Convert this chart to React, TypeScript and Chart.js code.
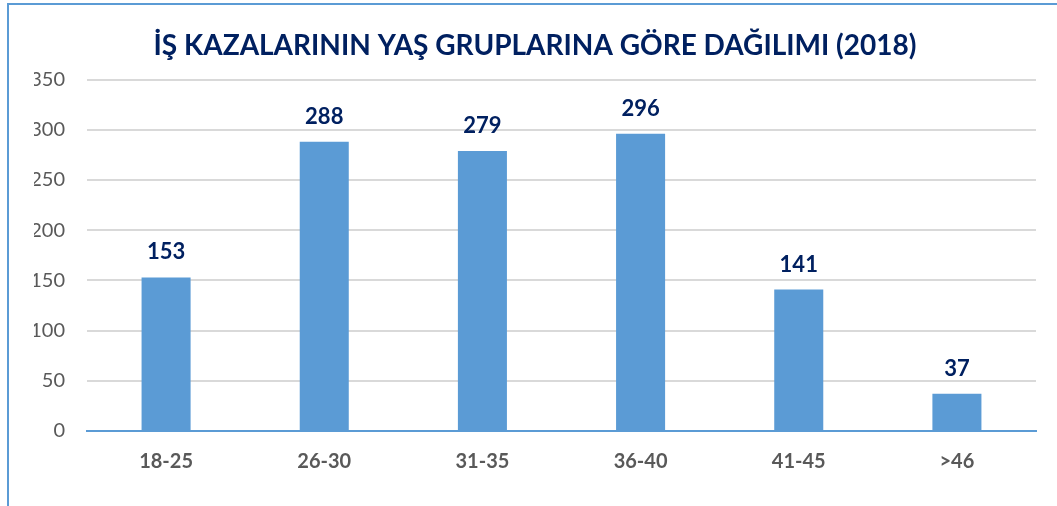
import React, { useEffect, useRef } from "react";
import { Chart, registerables } from "chart.js";

Chart.register(...registerables);

const title = "İŞ KAZALARININ YAŞ GRUPLARINA GÖRE DAĞILIMI (2018)";
const categories = ["18-25", "26-30", "31-35", "36-40", "41-45", ">46"];
const values = [153, 288, 279, 296, 141, 37];
const yTicks = [0, 50, 100, 150, 200, 250, 300, 350];

const FONT = "Lato, 'Open Sans', sans-serif";

const dataLabels = {
  id: "dataLabels",
  afterDatasetsDraw(chart: any) {
    const ctx = chart.ctx;
    const meta = chart.getDatasetMeta(0);
    ctx.save();
    ctx.font = `bold 22px ${FONT}`;
    ctx.fillStyle = "#002060";
    ctx.textAlign = "center";
    ctx.textBaseline = "middle";
    meta.data.forEach((bar: any, i: number) => {
      ctx.fillText(String(values[i]), bar.x, bar.y - 25);
    });
    ctx.restore();
  },
};

export default function App() {
  const ref = useRef<HTMLCanvasElement | null>(null);
  useEffect(() => {
    if (!ref.current) return;
    const chart = new Chart(ref.current, {
      type: "bar",
      data: {
        labels: categories,
        datasets: [
          {
            data: values,
            backgroundColor: "#5B9BD5",
            borderWidth: 0,
            barPercentage: 0.31,
            categoryPercentage: 1,
          },
        ],
      },
      options: {
        responsive: false,
        animation: false,
        layout: { padding: { top: 0, left: 34, right: 21, bottom: 13 } },
        plugins: {
          legend: { display: false },
          tooltip: { enabled: false },
          title: {
            display: true,
            text: title,
            color: "#002060",
            font: { family: FONT, size: 28, weight: "bold" },
            padding: { top: 29, bottom: 17 },
          },
        },
        scales: {
          x: {
            grid: { display: false, drawTicks: false },
            border: { display: true, color: "#5B9BD5", width: 2 },
            ticks: {
              color: "#595959",
              font: { family: FONT, size: 20, weight: "bold" },
              padding: 19,
            },
          },
          y: {
            min: 0,
            max: 350,
            afterFit(scale: any) {
              scale.width = 53;
            },
            afterBuildTicks(scale: any) {
              scale.ticks = yTicks.map((v) => ({ value: v }));
            },
            grid: { color: "#D9D9D9", lineWidth: 2, drawTicks: false },
            border: { display: false },
            ticks: {
              color: "#595959",
              font: { family: FONT, size: 20 },
              padding: 22,
            },
          },
        },
      },
      plugins: [dataLabels],
    });
    return () => chart.destroy();
  }, []);

  return (
    <div
      style={{
        position: "fixed",
        left: 0,
        top: 0,
        width: 1057,
        height: 506,
        overflow: "hidden",
        background: "#fff",
      }}
    >
      <canvas ref={ref} width={1057} height={506} style={{ position: "absolute", left: 0, top: 0 }} />
      <div
        style={{
          position: "absolute",
          left: 7,
          top: 3,
          width: 1200,
          height: 700,
          borderLeft: "2px solid #5B9BD5",
          borderTop: "2px solid #5B9BD5",
          pointerEvents: "none",
        }}
      />
    </div>
  );
}
